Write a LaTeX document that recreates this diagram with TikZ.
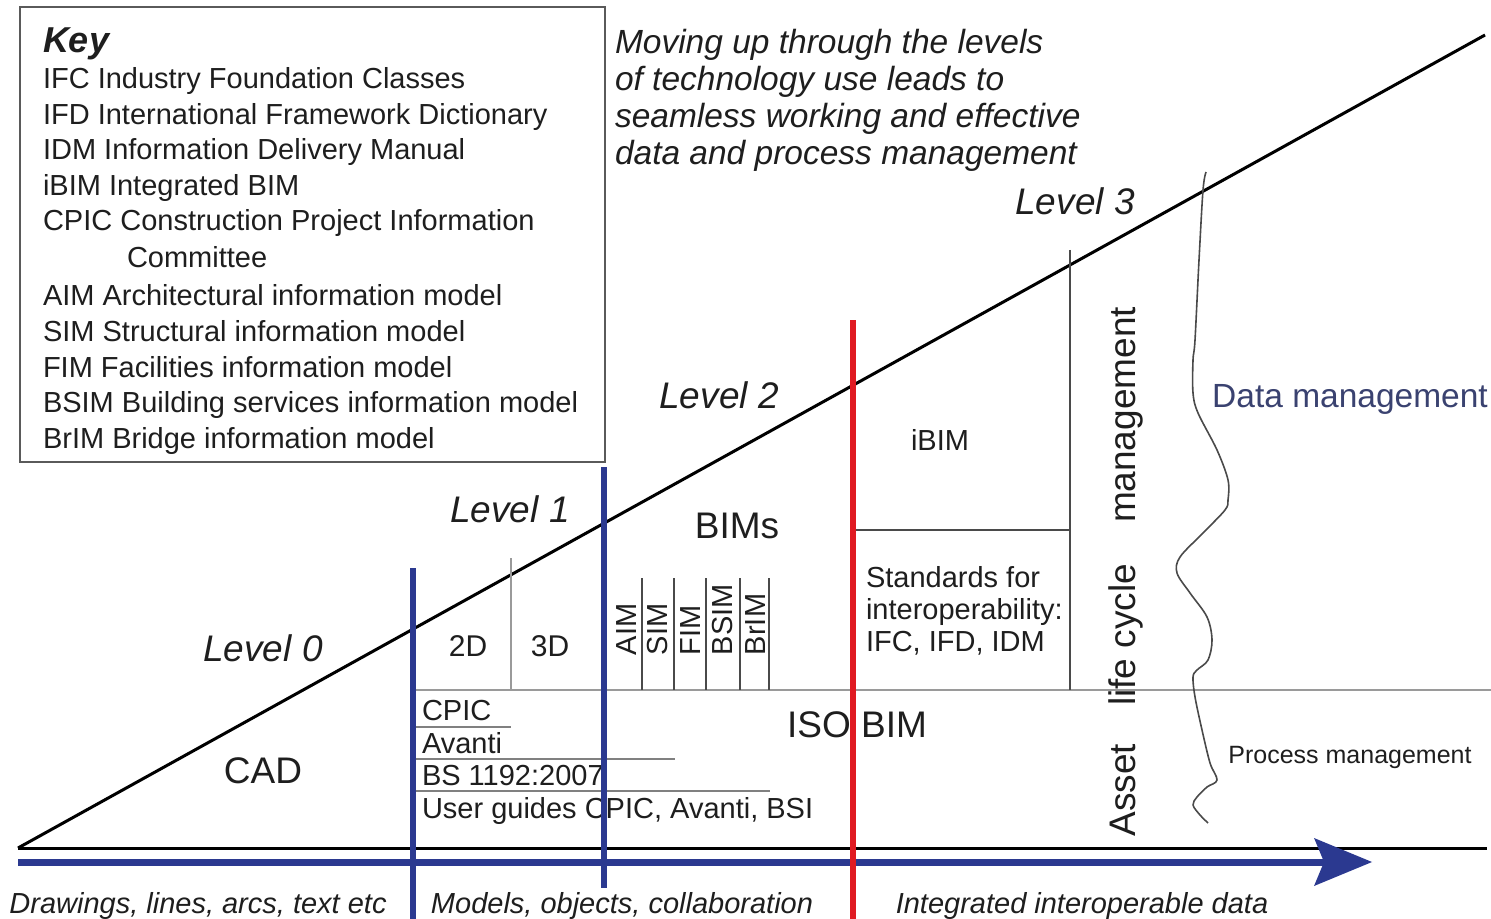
\documentclass[tikz,border=0pt]{standalone}
\usepackage{fontspec}
\setmainfont{Liberation Sans}
\usetikzlibrary{calc}
\definecolor{ink}{HTML}{1E1E1E}
\definecolor{navy}{HTML}{2B3990}
\definecolor{redline}{HTML}{E01A22}
\definecolor{datablue}{HTML}{3A4270}
\definecolor{boxgray}{HTML}{5A5A5A}
\definecolor{thingray}{HTML}{9A9A9A}
\definecolor{divgray}{HTML}{4A4A4A}
\newcommand{\fsz}[1]{\fontsize{#1}{#1}\selectfont}
\tikzset{
  txt/.style={inner sep=0pt, outer sep=0pt, text=ink},
  keyline/.style={txt, anchor=base west, font=\fsz{14.5}},
  note/.style={txt, anchor=base west, font=\fsz{16.75}\itshape},
  levelname/.style={txt, anchor=base, font=\fsz{18.5}\itshape},
  bigword/.style={txt, anchor=base, font=\fsz{18.5}},
  midword/.style={txt, anchor=base, font=\fsz{14.5}},
  smallword/.style={txt, anchor=base west, font=\fsz{14.5}},
  modelname/.style={txt, anchor=west, rotate=90, font=\fsz{14.5}},
  assetword/.style={txt, anchor=base, rotate=90, font=\fsz{18.5}},
  footer/.style={txt, anchor=base, font=\fsz{14.5}\itshape},
  barline/.style={line width=3pt},
  divider/.style={line width=0.75pt, draw=divgray},
  guide/.style={line width=0.75pt, draw=thingray},
}
\begin{document}
\begin{tikzpicture}[x=0.5pt,y=-0.5pt]
\useasboundingbox (0,0) rectangle (1491,919);
\fill[white] (0,0) rectangle (1491,919);

% ---------- key ----------
\draw[boxgray, line width=1pt] (20,7) rectangle (605,462);
\node[txt, anchor=base west, font=\fsz{18}\bfseries\itshape] (key) at (43,53) {Key};
\node[keyline] (k1) at (43,89)  {IFC Industry Foundation Classes};
\node[keyline] (k2) at (43,125) {IFD International Framework Dictionary};
\node[keyline] (k3) at (43,160) {IDM Information Delivery Manual};
\node[keyline] (k4) at (43,196) {iBIM Integrated BIM};
\node[keyline] (k5) at (43,231) {CPIC Construction Project Information};
\node[keyline] (k5b) at (127,268) {Committee};
\node[keyline] (k6) at (43,306) {AIM Architectural information model};
\node[keyline] (k7) at (43,341) {SIM Structural information model};
\node[keyline] (k8) at (43,377) {FIM Facilities information model};
\node[keyline] (k9) at (43,412) {BSIM Building services information model};
\node[keyline] (k10) at (43,448) {BrIM Bridge information model};

% ---------- note ----------
\node[note] (n1) at (615,54)  {Moving up through the levels};
\node[note] (n2) at (615,91)  {of technology use leads to};
\node[note] (n3) at (615,128) {seamless working and effective};
\node[note] (n4) at (615,165) {data and process management};

% ---------- frame lines ----------
\coordinate (origin) at (18,848);
\coordinate (apex) at (1485,35);
\coordinate (baseend) at (1487,848);
\draw[line width=1.5pt, black] (origin) -- (apex);
\draw[line width=1.5pt, black] (origin) -- (baseend);

% horizontal rule across the upper zones
\coordinate (hr0) at (413,690);
\coordinate (hr1) at (1491,690);
\draw[guide] (hr0) -- (hr1);

% 2D | 3D separator
\coordinate (s23a) at (511,558);
\coordinate (s23b) at (511,690);
\draw[guide] (s23a) -- (s23b);

% model columns
\foreach \xx in {642,674,706,740,769}
  \draw[divider] (\xx,578) -- (\xx,690);
\node[modelname] (aim)  at (627,655) {AIM};
\node[modelname] (sim)  at (658,655) {SIM};
\node[modelname] (fim)  at (691,655) {FIM};
\node[modelname] (bsim) at (723,655) {BSIM};
\node[modelname] (brim) at (756,655) {BrIM};

% standards underlines
\draw[guide, draw=gray] (413,727) -- (511,727);
\draw[guide, draw=gray] (413,759) -- (675,759);
\draw[guide, draw=gray] (413,791) -- (770,791);

% iBIM cell
\coordinate (ib0) at (853,530);
\coordinate (ib1) at (1070,530);
\coordinate (lc0) at (1070,250);
\coordinate (lc1) at (1070,690);
\draw[divider] (ib0) -- (ib1);
\draw[divider] (lc0) -- (lc1);

% ---------- labels ----------
\node[levelname] (l0) at (263,661) {Level 0};
\node[levelname] (l1) at (510,522) {Level 1};
\node[levelname] (l2) at (719,408) {Level 2};
\node[levelname] (l3) at (1075,215) {Level 3};
\node[bigword] (cad) at (263,783) {CAD};
\node[txt, anchor=base, font=\fsz{15}] (d2) at (468,656) {2D};
\node[txt, anchor=base, font=\fsz{15}] (d3) at (550,656) {3D};
\node[bigword] (bims) at (737,538) {BIMs};
\node[bigword] (iso) at (857,737) {ISO BIM};
\node[midword] (ibim) at (940,450) {iBIM};
\node[txt, anchor=base west, font=\fsz{14.5}] (std1) at (866,587) {Standards for};
\node[txt, anchor=base west, font=\fsz{14.5}] (std2) at (866,619) {interoperability:};
\node[txt, anchor=base west, font=\fsz{14.5}] (std3) at (866,651) {IFC, IFD, IDM};

\node[smallword] (cpic) at (422,720) {CPIC};
\node[smallword] (avanti) at (422,753) {Avanti};
\node[smallword] (bs) at (422,785) {BS 1192:2007};
\node[smallword] (ug) at (422,818) {User guides CPIC, Avanti, BSI};

\node[assetword] (asset) at (1135,790) {Asset};
\node[assetword] (life) at (1135,635) {life cycle};
\node[assetword] (mgmt) at (1135,415) {management};

% data / process boundary
\draw[line width=0.8pt, draw=divgray, line join=round]
  plot[smooth, tension=0.55] coordinates {
  (1206,172) (1203,190) (1199,260) (1195,340) (1193,360) (1193,393)
  (1198,413) (1217,450) (1228,480) (1228,500) (1225,510) (1203,533)
  (1180,557) (1177,573) (1190,593) (1207,617) (1212,640) (1208,660)
  (1197,670) (1193,677) (1195,697) (1202,730) (1210,763) (1217,780)
  (1207,787) (1197,797) (1193,805) (1200,815) (1208,823)};
\node[txt, anchor=base, font=\fsz{16.75}, text=datablue] (data) at (1350,407) {Data management};
\node[txt, anchor=base, font=\fsz{12.5}, text=ink] (proc) at (1350,763) {Process management};

% ---------- arrow of progress ----------
\coordinate (ar0) at (18,862);
\coordinate (ar1) at (1325,862);
\draw[navy, line width=3.5pt] (ar0) -- (ar1);
\fill[navy] (1314,838) -- (1372,862) -- (1314,886) -- (1324,862) -- cycle;

% ---------- level boundaries ----------
\coordinate (b1t) at (413,568);
\coordinate (b1b) at (413,919);
\coordinate (b2t) at (604,467);
\coordinate (b2b) at (604,888);
\coordinate (b3t) at (853,320);
\coordinate (b3b) at (853,919);
\draw[navy, barline] (b1t) -- (b1b);
\draw[navy, barline] (b2t) -- (b2b);
\draw[redline, barline] (b3t) -- (b3b);

% ---------- footers ----------
\node[footer] (f1) at (198,913) {Drawings, lines, arcs, text etc};
\node[footer] (f2) at (622,913) {Models, objects, collaboration};
\node[footer] (f3) at (1082,913) {Integrated interoperable data};
\end{tikzpicture}
\end{document}
